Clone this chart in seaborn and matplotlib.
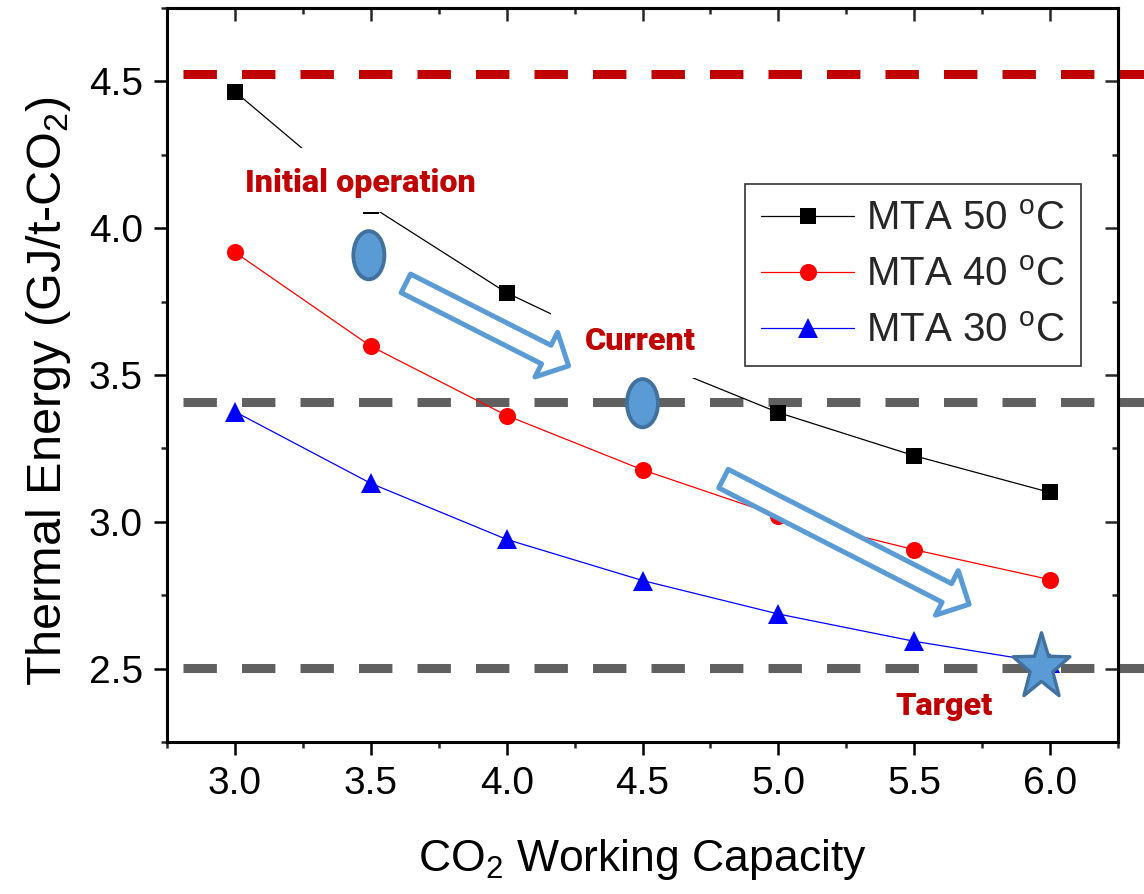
import numpy as np
import pandas as pd
import matplotlib
matplotlib.use('Agg')
import matplotlib.pyplot as plt
import seaborn as sns
from matplotlib.patches import Ellipse, Rectangle, FancyArrowPatch, ArrowStyle
from matplotlib.path import Path
from matplotlib.ticker import MultipleLocator

# ---------------- data ----------------
capacity = [3.0, 3.5, 4.0, 4.5, 5.0, 5.5, 6.0]
mta50 = [4.465, 4.075, 3.78, 3.56, 3.372, 3.225, 3.10]
mta40 = [3.918, 3.598, 3.362, 3.177, 3.02, 2.905, 2.803]
mta30 = [3.375, 3.131, 2.94, 2.80, 2.686, 2.593, 2.518]
series_labels = [r'MTA 50 $^{\mathrm{o}}$C', r'MTA 40 $^{\mathrm{o}}$C', r'MTA 30 $^{\mathrm{o}}$C']
series_colors = ['black', 'red', 'blue']
series_markers = ['s', 'o', '^']

ref_levels = [4.526, 3.408, 2.501]
ref_colors = ['#C00000', '#606060', '#606060']

annot_texts = ['Initial operation', 'Current', 'Target']
annot_xy = [(3.463, 4.154), (4.493, 3.616), (5.61, 2.373)]

x_ticks = [3.0, 3.5, 4.0, 4.5, 5.0, 5.5, 6.0]
y_ticks = [2.5, 3.0, 3.5, 4.0, 4.5]
x_label = r'CO$_2$ Working Capacity'
y_label = r'Thermal Energy (GJ/t-CO$_2$)'

# ---------------- style ----------------
sns.set_theme(style='ticks')
plt.rcParams['font.family'] = ['Liberation Sans', 'DejaVu Sans']
plt.rcParams['mathtext.fontset'] = 'custom'
plt.rcParams['mathtext.rm'] = 'Liberation Sans'
plt.rcParams['mathtext.it'] = 'Liberation Sans:italic'
plt.rcParams['mathtext.bf'] = 'Liberation Sans:bold'
plt.rcParams['axes.linewidth'] = 2.2

fig = plt.figure(figsize=(11.44, 8.94), dpi=100)
W, H = 1144, 894
ax = fig.add_axes([167 / W, 1 - 742 / H, (1118 - 167) / W, (742 - 8) / H])

df = pd.DataFrame({
    'capacity': capacity * 3,
    'energy': mta50 + mta40 + mta30,
    'series': [lab for lab in series_labels for _ in capacity],
})

sns.lineplot(data=df, x='capacity', y='energy', hue='series', style='series',
             hue_order=series_labels, style_order=series_labels,
             palette=series_colors, markers=series_markers, dashes=False,
             linewidth=0.9, markeredgewidth=0, ax=ax, zorder=3)

msizes = {'s': 11.5, 'o': 12.3, '^': 14}
for ln in ax.lines:
    m = ln.get_marker()
    if m in msizes:
        ln.set_markersize(msizes[m])

# reference dashed levels
for lvl, col in zip(ref_levels, ref_colors):
    ax.plot([2.81, 6.6], [lvl, lvl], color=col, lw=6.5, dashes=(3.7, 2.78),
            clip_on=False, zorder=2, solid_capstyle='butt', dash_capstyle='butt')

# white masks behind labels (text boxes)
ax.add_patch(Rectangle((3.022, 4.055), 0.882, 0.219, fc='white', ec='none', zorder=4))
ax.add_patch(Rectangle((4.162, 3.49), 0.643, 0.263, fc='white', ec='none', zorder=4))

# annotation texts
for txt, (tx, ty) in zip(annot_texts, annot_xy):
    ax.text(tx, ty, txt, ha='center', va='center', color='#C00000', fontsize=23.3,
            fontweight=900, family=['Roboto', 'DejaVu Sans'], zorder=5)

# hollow block arrows
arrow_style = ArrowStyle.Simple(head_length=18, head_width=36, tail_width=15)
for (p0, p1) in [((3.629, 3.812), (4.228, 3.531)), ((4.798, 3.147), (5.702, 2.719))]:
    ax.add_patch(FancyArrowPatch(p0, p1, arrowstyle=arrow_style, mutation_scale=1,
                                 shrinkA=0, shrinkB=0, fc='white', ec='#5B9BD5',
                                 lw=3.6, zorder=6))

# ellipses
for cx, cy in [(3.493, 3.908), (4.50, 3.404)]:
    ax.add_patch(Ellipse((cx, cy), 0.114, 0.164, fc='#5B9BD5', ec='#41719C',
                         lw=2.8, zorder=6))

# star (target)
star = Path.unit_regular_star(5, 0.40)
sv = star.vertices.copy()
sv[:, 0] *= 0.86
star_path = Path(sv, star.codes)
ax.plot([5.967], [2.507], marker=star_path, ms=50, mfc='#5B9BD5', mec='#41719C',
        mew=2.4, ls='none', zorder=7)

# axes
ax.set_xlim(2.75, 6.25)
ax.set_ylim(2.25, 4.75)
ax.set_xticks(x_ticks)
ax.set_yticks(y_ticks)
ax.set_xticklabels([f'{v:.1f}' for v in x_ticks])
ax.set_yticklabels([f'{v:.1f}' for v in y_ticks])
ax.xaxis.set_minor_locator(MultipleLocator(0.25))
ax.yaxis.set_minor_locator(MultipleLocator(0.25))
ax.tick_params(which='major', direction='out', length=9.5, width=1.8, labelsize=28,
               color='black', labelcolor='black')
ax.tick_params(which='minor', direction='out', length=4.5, width=1.8)
ax.tick_params(axis='x', which='major', pad=8)
ax.tick_params(axis='y', which='major', pad=8)

for side in ['top', 'right']:
    sec = ax.secondary_xaxis('top') if side == 'top' else ax.secondary_yaxis('right')
    axis = sec.xaxis if side == 'top' else sec.yaxis
    axis.set_major_locator(MultipleLocator(0.5))
    axis.set_minor_locator(MultipleLocator(0.25))
    sec.tick_params(which='major', direction='in', length=9.5, width=1.8,
                    labeltop=False, labelright=False)
    sec.tick_params(which='minor', direction='in', length=4.5, width=1.8)
    for sp in sec.spines.values():
        sp.set_linewidth(2.2)

for sp in ax.spines.values():
    sp.set_visible(True)
    sp.set_linewidth(2.2)
    sp.set_color('black')

ax.set_xlabel(x_label, fontsize=32, labelpad=25, color='black')
ax.set_ylabel(y_label, fontsize=35, labelpad=11, color='black')
ax.yaxis.label.set_y(0.478)

# legend
old = ax.get_legend()
handles = old.legend_handles
labels = [t.get_text() for t in old.get_texts()]
for h, m in zip(handles, series_markers):
    h.set_markersize(msizes[m])
    h.set_linewidth(0.9)
leg = ax.legend(handles, labels, loc='upper right', bbox_to_anchor=(0.961, 0.760),
                borderaxespad=0, fontsize=29, frameon=True, fancybox=False,
                edgecolor='#333333', framealpha=1, handlelength=2.3,
                handletextpad=0.3, borderpad=0.4, labelspacing=0.44)
leg.get_frame().set_linewidth(1.2)
leg.set_zorder(8)

fig.savefig('out.png', dpi=100)
